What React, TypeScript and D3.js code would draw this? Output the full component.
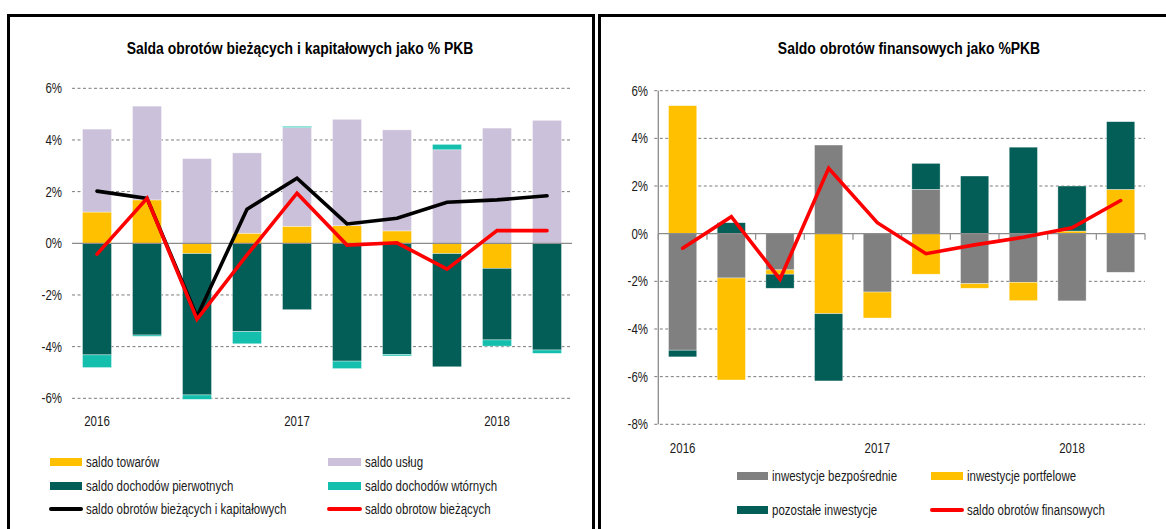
import React from 'react';
import * as d3 from 'd3';

// ---------- DATA ----------
const quarters = ['2016Q1', '2016Q2', '2016Q3', '2016Q4', '2017Q1', '2017Q2', '2017Q3', '2017Q4', '2018Q1', '2018Q2'];
const yearLabels = ['2016', '', '', '', '2017', '', '', '', '2018', ''];
const leftTicks = [-6, -4, -2, 0, 2, 4, 6];
const rightTicks = [-8, -6, -4, -2, 0, 2, 4, 6];

// left chart (current & capital account, % GDP)
const saldoTowarow = [1.21, 1.68, -0.4, 0.39, 0.66, 0.68, 0.48, -0.4, -0.97, 0.0];
const saldoUslug = [3.21, 3.63, 3.28, 3.11, 3.82, 4.12, 3.91, 3.62, 4.46, 4.76];
const saldoPierwotnych = [-4.32, -3.55, -5.47, -3.42, -2.57, -4.56, -4.3, -4.38, -2.77, -4.13];
const saldoWtornych = [-0.49, -0.05, -0.17, -0.47, 0.05, -0.29, -0.06, 0.21, -0.24, -0.13];
const saldoBiezIKap = [2.02, 1.74, -2.84, 1.32, 2.52, 0.75, 0.97, 1.59, 1.68, 1.84];
const saldoBiezacych = [-0.42, 1.74, -2.94, -0.45, 1.94, -0.07, 0.02, -1.0, 0.49, 0.49];

// right chart (financial account, % GDP)
const invBezposrednie = [-4.89, -1.86, -1.52, 3.72, -2.45, 1.86, -2.1, -2.04, -2.82, -1.62];
const invPortfelowe = [5.37, -4.28, -0.18, -3.36, -1.09, -1.7, -0.19, -0.77, 0.11, 1.86];
const invPozostale = [-0.28, 0.46, -0.59, -2.82, 0.0, 1.09, 2.42, 3.63, 1.89, 2.84];
const saldoFinansowe = [-0.61, 0.71, -1.91, 2.74, 0.46, -0.84, -0.47, -0.15, 0.25, 1.39];

// ---------- STYLE ----------
const C = {
  yellow: '#FFC000',
  lavender: '#CCC1DA',
  dkgreen: '#025E56',
  teal: '#14BFAE',
  gray: '#808080',
  red: '#FF0000',
  black: '#000000',
};
const FONT = "'Liberation Sans', Arial, sans-serif";
const TXT = '#1a1a1a';
const NARROW = 0.82;

function T(props: { x: number; y: number; size: number; anchor?: string; bold?: boolean; dy?: string; children: React.ReactNode }) {
  const { x, y, size, anchor, bold, dy, children } = props;
  return (
    <text transform={`translate(${x},${y}) scale(${NARROW},1)`} dy={dy} textAnchor={anchor || 'start'}
      fontSize={size} fontWeight={bold ? 'bold' : 'normal'} fill={bold ? '#000' : TXT} fontFamily={FONT}>
      {children}
    </text>
  );
}

type Series = { key: string; label: string; color: string; values: number[] };

function StackedPanel(props: {
  series: Series[];
  lines: { label: string; color: string; values: number[] }[];
  x0: number; x1: number; yTop: number; yBot: number; domain: [number, number];
  ticks: number[]; labelX: number; yearY: number; axisLines: boolean;
}) {
  const { series, lines, x0, x1, yTop, yBot, domain, ticks, labelX, yearY, axisLines } = props;
  const x = d3.scaleBand<string>().domain(quarters).range([x0, x1]).paddingInner(0.42).paddingOuter(0.21);
  const y = d3.scaleLinear().domain(domain).range([yBot, yTop]);
  const rows = quarters.map((q, i) => {
    const r: any = { q };
    series.forEach((s) => (r[s.key] = s.values[i]));
    return r;
  });
  const stack = d3.stack<any>().keys(series.map((s) => s.key)).offset(d3.stackOffsetDiverging);
  const stacked = stack(rows);
  const cx = (q: string) => (x(q) as number) + x.bandwidth() / 2;
  const line = d3.line<number>().x((_, i) => cx(quarters[i])).y((v) => y(v));
  const step = x.step();

  return (
    <g>
      {ticks.map((t) => (
        <g key={t}>
          {t !== 0 && (
            <line x1={axisLines ? x0 - 4 : x0} x2={x1} y1={y(t)} y2={y(t)} stroke="#7a7a7a" strokeWidth={1} strokeDasharray="3 2.5" />
          )}
          <T x={labelX} y={y(t)} dy="0.36em" anchor="end" size={14}>{t + '%'}</T>
        </g>
      ))}
      {stacked.map((layer, li) => (
        <g key={layer.key}>
          {layer.map((d, i) => {
            const a = y(d[0]);
            const b = y(d[1]);
            const h = Math.abs(a - b);
            if (h < 0.01) return null;
            return (
              <rect key={i} x={x(quarters[i])} width={x.bandwidth()} y={Math.min(a, b)} height={h}
                fill={series[li].color} stroke="#ffffff" strokeOpacity={0.6} strokeWidth={0.6} />
            );
          })}
        </g>
      ))}
      <line x1={x0} x2={x1} y1={y(0)} y2={y(0)} stroke="#8c8c8c" strokeWidth={1.3} />
      {axisLines && (
        <g>
          <line x1={x0} x2={x0} y1={yTop} y2={yBot} stroke="#8c8c8c" strokeWidth={1.3} />
          {d3.range(quarters.length + 1).map((i) => (
            <line key={i} x1={x0 + i * step} x2={x0 + i * step}
              y1={y(0)} y2={y(0) + 6} stroke="#8c8c8c" strokeWidth={1.2} />
          ))}
        </g>
      )}
      {lines.map((l) => (
        <path key={l.label} d={line(l.values) || ''} fill="none" stroke={l.color} strokeWidth={3.6}
          strokeLinejoin="miter" strokeLinecap="round" />
      ))}
      {yearLabels.map((lab, i) =>
        lab ? (
          <T key={i} x={cx(quarters[i])} y={yearY} anchor="middle" size={14}>{lab}</T>
        ) : null
      )}
    </g>
  );
}

function LegendItem(props: { x: number; y: number; w: number; tx: number; color: string; label: string; isLine?: boolean }) {
  const { x, y, w, tx, color, label, isLine } = props;
  return (
    <g>
      {isLine ? (
        <line x1={x + 1} x2={x + w - 1} y1={y} y2={y} stroke={color} strokeWidth={4} strokeLinecap="round" />
      ) : (
        <rect x={x} y={y - 4} width={w} height={8} fill={color} />
      )}
      <T x={tx} y={y} dy="0.36em" size={14}>{label}</T>
    </g>
  );
}

export default function App() {
  const leftSeries: Series[] = [
    { key: 'tow', label: 'saldo towarów', color: C.yellow, values: saldoTowarow },
    { key: 'usl', label: 'saldo usług', color: C.lavender, values: saldoUslug },
    { key: 'pie', label: 'saldo dochodów pierwotnych', color: C.dkgreen, values: saldoPierwotnych },
    { key: 'wto', label: 'saldo dochodów wtórnych', color: C.teal, values: saldoWtornych },
  ];
  const leftLines = [
    { label: 'saldo obrotów bieżących i kapitałowych', color: C.black, values: saldoBiezIKap },
    { label: 'saldo obrotow bieżących', color: C.red, values: saldoBiezacych },
  ];
  const rightSeries: Series[] = [
    { key: 'bez', label: 'inwestycje bezpośrednie', color: C.gray, values: invBezposrednie },
    { key: 'por', label: 'inwestycje portfelowe', color: C.yellow, values: invPortfelowe },
    { key: 'poz', label: 'pozostałe inwestycje', color: C.dkgreen, values: invPozostale },
  ];
  const rightLines = [{ label: 'saldo obrotów finansowych', color: C.red, values: saldoFinansowe }];

  return (
    <svg width={1166} height={529} style={{ position: 'absolute', left: 0, top: 0, display: 'block', background: '#fff' }}>
      <rect x={0} y={0} width={1166} height={529} fill="#fff" />
      {/* panel frames */}
      <rect x={8.5} y={15.5} width={585} height={560} fill="none" stroke="#000" strokeWidth={3} />
      <rect x={599.5} y={15.5} width={620} height={560} fill="none" stroke="#000" strokeWidth={3} />

      {/* LEFT */}
      <T x={300} y={54} anchor="middle" size={17} bold>Salda obrotów bieżących i kapitałowych jako % PKB</T>
      <StackedPanel series={leftSeries} lines={leftLines} x0={72} x1={572} yTop={88.3} yBot={398.3}
        domain={[-6, 6]} ticks={leftTicks} labelX={62} yearY={426} axisLines={false} />
      <LegendItem x={50} y={462} w={32} tx={86} color={C.yellow} label="saldo towarów" />
      <LegendItem x={328} y={462} w={33} tx={365} color={C.lavender} label="saldo usług" />
      <LegendItem x={50} y={486} w={32} tx={86} color={C.dkgreen} label="saldo dochodów pierwotnych" />
      <LegendItem x={328} y={486} w={33} tx={365} color={C.teal} label="saldo dochodów wtórnych" />
      <LegendItem x={50} y={509} w={32} tx={86} color={C.black} label="saldo obrotów bieżących i kapitałowych" isLine />
      <LegendItem x={328} y={509} w={33} tx={365} color={C.red} label="saldo obrotow bieżących" isLine />

      {/* RIGHT */}
      <T x={909} y={54} anchor="middle" size={17} bold>Saldo obrotów finansowych jako %PKB</T>
      <StackedPanel series={rightSeries} lines={rightLines} x0={658.3} x1={1145} yTop={90.7} yBot={424.3}
        domain={[-8, 6]} ticks={rightTicks} labelX={648} yearY={453} axisLines={true} />
      <LegendItem x={737} y={476} w={31} tx={772} color={C.gray} label="inwestycje bezpośrednie" />
      <LegendItem x={931} y={476} w={32} tx={967} color={C.yellow} label="inwestycje portfelowe" />
      <LegendItem x={737} y={510} w={31} tx={772} color={C.dkgreen} label="pozostałe inwestycje" />
      <LegendItem x={931} y={510} w={32} tx={967} color={C.red} label="saldo obrotów finansowych" isLine />
    </svg>
  );
}
